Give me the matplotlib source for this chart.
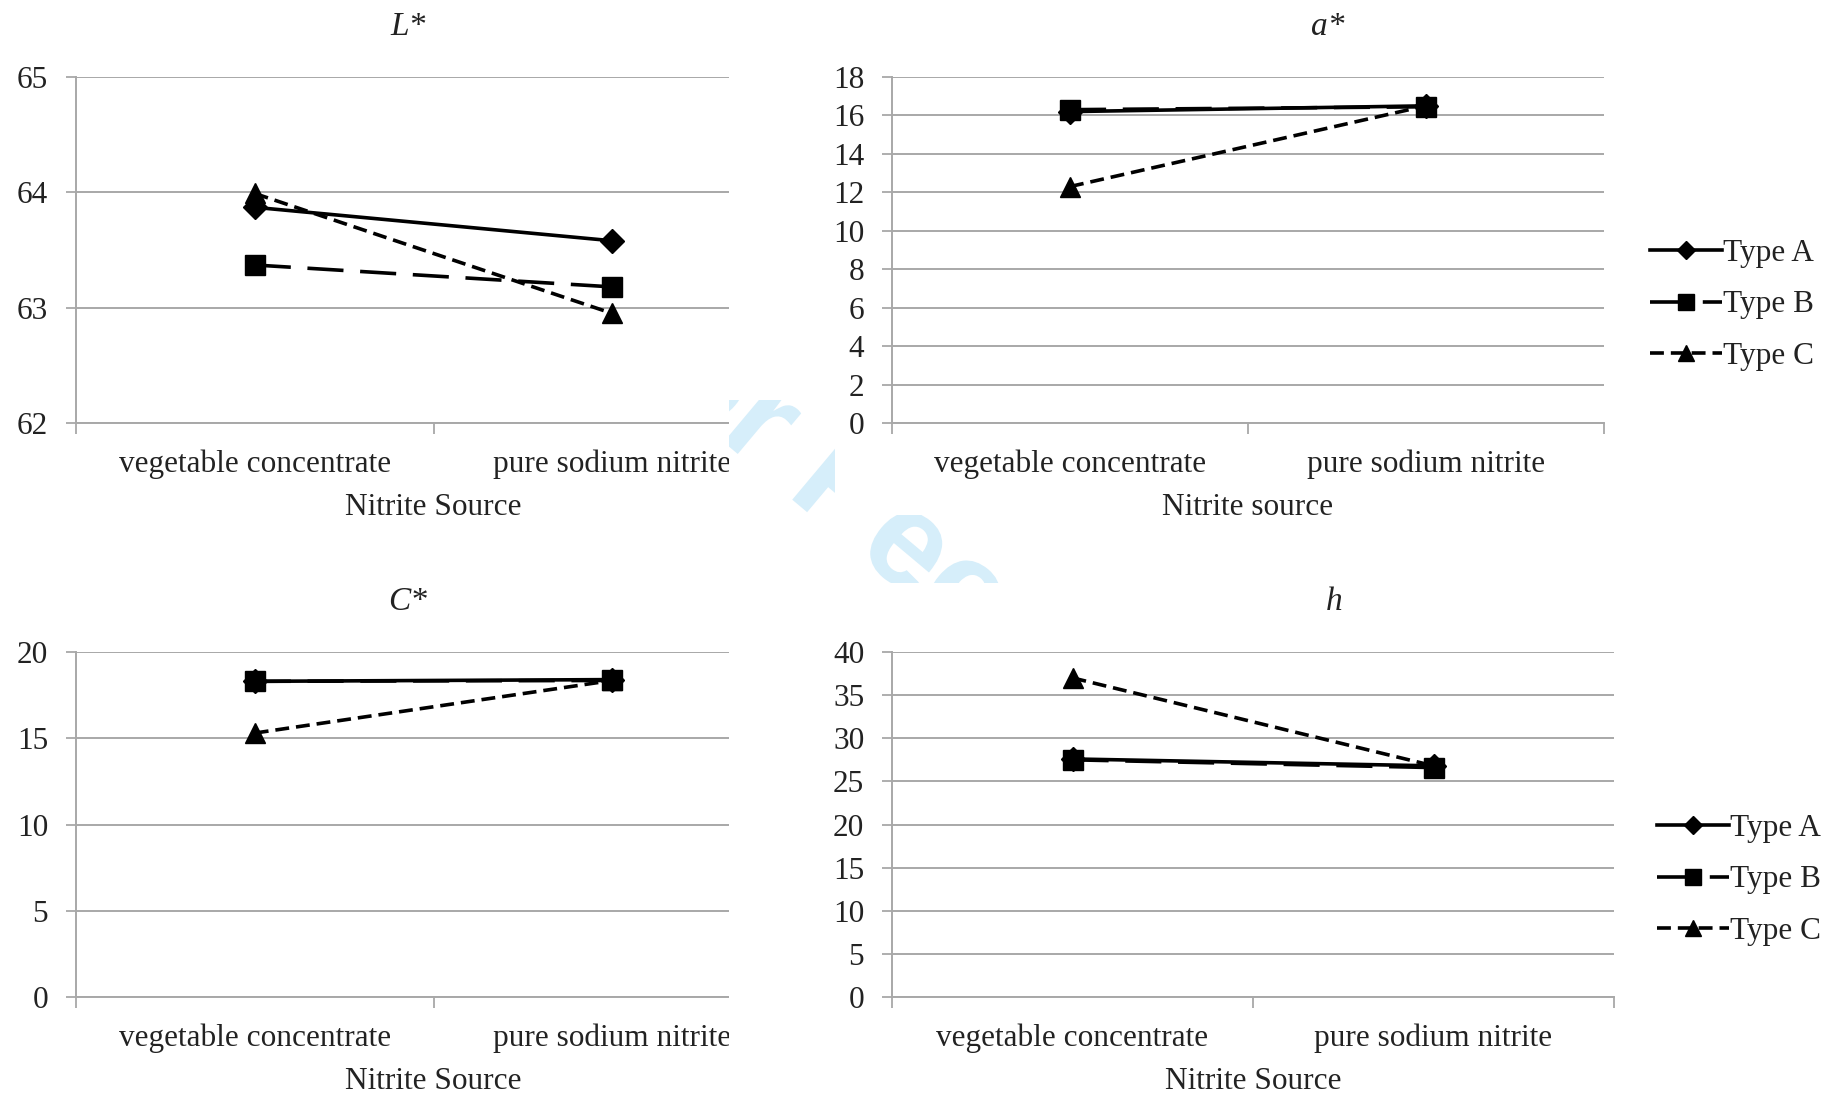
import matplotlib
matplotlib.use('Agg')
import matplotlib.pyplot as plt
from matplotlib.patches import Rectangle, Polygon, PathPatch
from matplotlib.textpath import TextPath
from matplotlib.font_manager import FontProperties
from matplotlib.transforms import Affine2D, IdentityTransform

# data
categories = ['vegetable concentrate', 'pure sodium nitrite']
series = ['Type A', 'Type B', 'Type C']

L_type_a = [63.87, 63.58]
L_type_b = [63.37, 63.18]
L_type_c = [63.99, 62.95]

a_type_a = [16.2, 16.5]
a_type_b = [16.3, 16.45]
a_type_c = [12.3, 16.5]

C_type_a = [18.3, 18.4]
C_type_b = [18.3, 18.35]
C_type_c = [15.3, 18.35]

h_type_a = [27.6, 26.8]
h_type_b = [27.5, 26.6]
h_type_c = [37.0, 26.8]

plt.rcParams['font.family'] = 'Liberation Serif'
plt.rcParams['lines.scale_dashes'] = False
TXT = '#222222'
GRID = '#a8a8a8'
FS = 22.5

W, H = 1827, 1096
fig = plt.figure(figsize=(W / 100, H / 100), dpi=100)


def px_axes(left, right, top, bottom):
    return fig.add_axes([left / W, 1 - bottom / H, (right - left) / W, (bottom - top) / H])


def draw_panel(ax, title, title_x, ya, yb, yc, ylim, yticks, xlabel):
    x = range(len(categories))
    ax.plot(x, ya, color='black', lw=2.6, marker='D', ms=12, ls='-', label=series[0], clip_on=False)
    ax.plot(x, yb, color='black', lw=2.6, marker='s', ms=14.5, dashes=(26, 12), label=series[1], clip_on=False)
    ax.plot(x, yc, color='black', lw=2.6, marker='^', ms=15, dashes=(10, 5), label=series[2], clip_on=False)

    ax.set_xlim(-0.5, 1.5)
    ax.set_ylim(*ylim)
    ax.set_yticks(yticks)
    ax.yaxis.grid(True, color=GRID, lw=1.4)
    ax.set_axisbelow(True)

    ax.set_xticks(list(x))
    ax.set_xticklabels(categories)
    ax.set_xticks([-0.5, 0.5, 1.5], minor=True)
    ax.tick_params(axis='x', which='major', length=0, pad=19, labelsize=FS, labelcolor=TXT)
    ax.tick_params(axis='x', which='minor', length=8, width=1.3, color=GRID)
    ax.tick_params(axis='y', length=7, width=1.3, color=GRID, pad=13, labelsize=FS, labelcolor=TXT)

    for s in ['top', 'right']:
        ax.spines[s].set_visible(False)
    for s in ['left', 'bottom']:
        ax.spines[s].set_color(GRID)
        ax.spines[s].set_linewidth(1.4)

    ax.set_xlabel(xlabel, fontsize=FS, color=TXT, labelpad=10)
    ax.set_title(title, fontsize=24, style='italic', color=TXT, pad=30, x=title_x)


ax1 = px_axes(76, 791, 77, 423)
draw_panel(ax1, 'L*', 0.464, L_type_a, L_type_b, L_type_c, (62, 65), [62, 63, 64, 65], 'Nitrite Source')

ax2 = px_axes(892, 1604, 77, 423)
draw_panel(ax2, 'a*', 0.612, a_type_a, a_type_b, a_type_c, (0, 18), list(range(0, 19, 2)), 'Nitrite source')

ax3 = px_axes(76, 791, 652, 997)
draw_panel(ax3, 'C*', 0.464, C_type_a, C_type_b, C_type_c, (0, 20), list(range(0, 21, 5)), 'Nitrite Source')

ax4 = px_axes(892, 1614, 652, 997)
draw_panel(ax4, 'h', 0.612, h_type_a, h_type_b, h_type_c, (0, 40), list(range(0, 41, 5)), 'Nitrite Source')

for ax, lx, ly in [(ax2, 1650, 305), (ax4, 1657, 880)]:
    ax.legend(loc='center left', bbox_to_anchor=(lx / W, 1 - ly / H), bbox_transform=fig.transFigure,
              frameon=False, fontsize=FS, labelcolor=TXT, markerscale=0.75, handlelength=2.3,
              handletextpad=0.05, borderpad=0, borderaxespad=0, labelspacing=0.72)

# the left panels are cropped on their right side in the original
fig.patches.append(Rectangle((729 / W, 0), 76 / W, 1, transform=fig.transFigure,
                             facecolor='white', edgecolor='none', zorder=5))

# "For Peer Review" watermark, only visible in the gaps between the panels
fp = FontProperties(family='Liberation Sans', weight='bold')
tp = TextPath((0, 0), 'For Peer Review', size=135, prop=fp)
wm = PathPatch(tp, facecolor='#d6eefa', edgecolor='none', zorder=6,
               transform=Affine2D().rotate_deg(-40).translate(590, H - 330))
fig.patches.append(wm)
gap = Polygon([(729, H - 400), (835, H - 400), (835, H - 515), (1150, H - 515),
               (1150, H - 583), (729, H - 583)], closed=True, transform=IdentityTransform(),
              facecolor='none', edgecolor='none')
wm.set_clip_path(gap)

fig.savefig('out.png', dpi=100, facecolor='white')
